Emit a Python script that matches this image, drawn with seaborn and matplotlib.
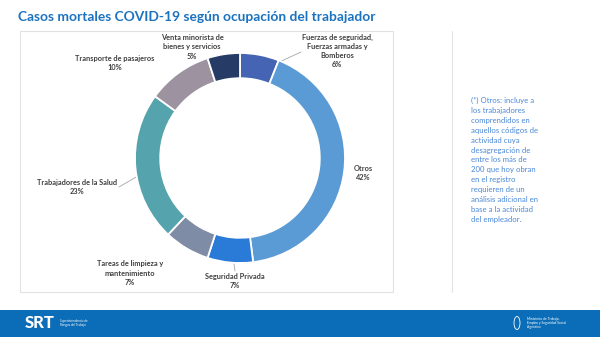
import matplotlib
matplotlib.use("Agg")
import matplotlib.pyplot as plt
import seaborn as sns
from matplotlib.patches import Rectangle, Ellipse

sns.set_theme(style="white")
plt.rcParams['font.family'] = ['Lato', 'DejaVu Sans']

categories = ["Fuerzas de seguridad,\nFuerzas armadas y\nBomberos", "Otros",
              "Seguridad Privada", "Tareas de limpieza y\nmantenimiento",
              "Trabajadores de la Salud", "Transporte de pasajeros",
              "Venta minorista de\nbienes y servicios"]
values = [6, 42, 7, 7, 23, 10, 5]
colors = ["#4664b4", "#5b9bd5", "#2a7ad8", "#7f8ca6", "#55a3ac", "#9d929f", "#263b66"]

W, H = 600, 337
fig = plt.figure(figsize=(6, 3.37), dpi=100)
fig.patch.set_facecolor("white")

bg = fig.add_axes([0, 0, 1, 1])
bg.set_xlim(0, W)
bg.set_ylim(H, 0)
bg.axis("off")

# chart box and side panel
bg.add_patch(Rectangle((20, 31), 373, 261, fill=False, edgecolor="#e2e2e2", lw=0.8))
bg.plot([452, 452], [31, 292], color="#e2e2e2", lw=0.8)

# title
bg.text(18, 17, "Casos mortales COVID-19 según ocupación del trabajador",
        fontsize=9.9, fontweight="bold", color="#1b72bf", va="center", ha="left")

# footer
bg.add_patch(Rectangle((0, 310), W, 27, facecolor="#0b6db7", edgecolor="none"))
bg.text(25, 323, "SRT", fontsize=12, fontweight="black", color="white", va="center", ha="left")
bg.text(60, 323, "Superintendencia de\nRiesgos del Trabajo", fontsize=2.2, color="white",
        va="center", ha="left", linespacing=1.1)
bg.text(527, 323, "Ministerio de Trabajo,\nEmpleo y Seguridad Social\nArgentina", fontsize=2.4,
        color="white", va="center", ha="left", linespacing=1.1)
bg.add_patch(Ellipse((517, 323), 6, 13, facecolor="none", edgecolor="white", lw=0.6))

# note text
note = ("(*) Otros: incluye a\nlos trabajadores\ncomprendidos en\naquellos códigos de\n"
        "actividad cuya\ndesagregación de\nentre los más de\n200 que hoy obran\n"
        "en el registro\nrequieren de un\nanálisis adicional en\nbase a la actividad\n"
        "del empleador.")
bg.text(471, 97, note, fontsize=5.6, color="#4a88d8", va="top", ha="left", linespacing=1.48)

# donut
cx, cy, r = 240, 158, 105
ax = fig.add_axes([(cx - r) / W, (H - cy - r) / H, 2 * r / W, 2 * r / H])
ax.pie(values, colors=colors, startangle=90, counterclock=False, radius=1,
       wedgeprops=dict(width=0.24, edgecolor="white", linewidth=1.3))
ax.set_xlim(-1, 1)
ax.set_ylim(-1, 1)
ax.set_aspect("equal")
ax.axis("off")

lab = dict(fontsize=5.3, fontweight="bold", color="#3f3f3f", ha="center", va="center",
           linespacing=1.35)
positions = [(337, 51), (363, 173), (235, 281), (130, 273), (77, 187), (115, 63), (192, 47)]
for (x, y), c, v in zip(positions, categories, values):
    bg.text(x, y, f"{c}\n{v}%", **lab)

# leader lines
bg.plot([301, 262], [52, 70], color="#a6a6a6", lw=0.6)
bg.plot([119, 150], [187, 169], color="#a6a6a6", lw=0.6)
bg.plot([232, 235], [250, 271], color="#a6a6a6", lw=0.6)

fig.savefig("out.png", dpi=100, facecolor="white")
